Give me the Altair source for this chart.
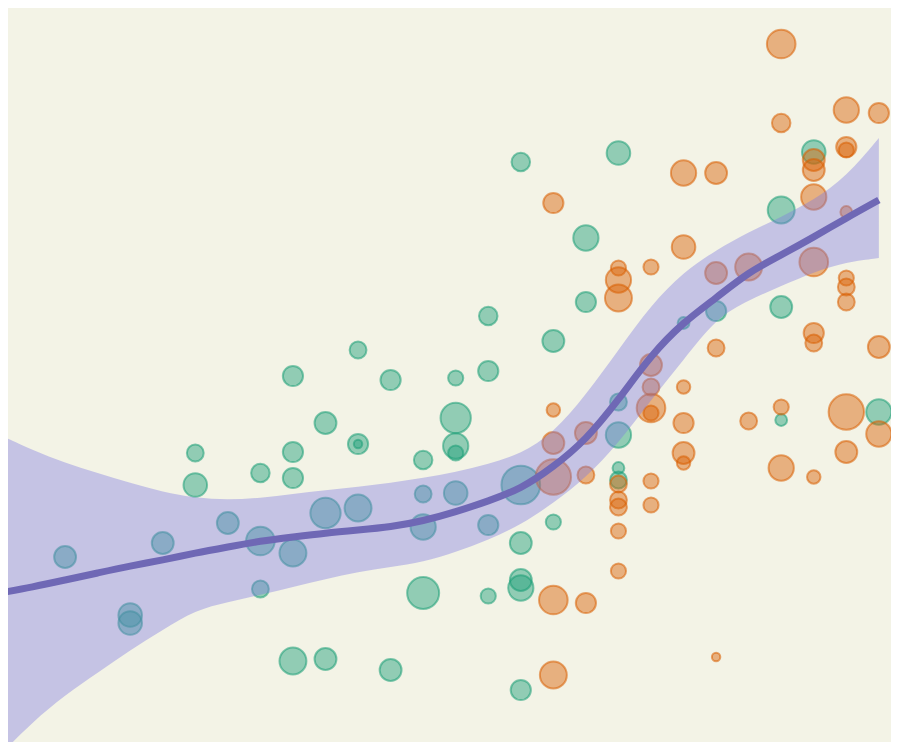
import altair as alt
import pandas as pd

# ---- scatter data (x = step index, y = value, r = radius-like weight) ----
green_x = [2, 4, 4, 5, 6, 6, 7, 8, 8, 8, 9, 9, 9, 9, 9, 10, 10, 10, 11, 11, 11, 11,
           12, 12, 13, 13, 13, 13, 14, 14, 14, 14, 14, 15, 15, 15, 15,
           16, 16, 16, 16, 16, 16, 17, 17, 18, 18, 19, 19, 19, 19, 19,
           21, 22, 24, 24, 24, 25, 27]
green_y = [19.3, 13.5, 12.7, 20.7, 29.7, 26.5, 22.7, 27.7, 20.9, 16.1, 37.4, 29.8, 27.2, 19.7, 8.9,
           32.7, 23.7, 9.1, 40.0, 30.6, 30.6, 24.2, 37.0, 8.0, 29.0, 25.6, 22.3, 15.7,
           37.2, 33.2, 30.4, 29.7, 25.7, 43.4, 37.9, 22.5, 15.4,
           58.8, 26.5, 20.7, 17.0, 16.2, 6.0, 40.9, 22.8, 51.2, 44.8,
           59.7, 34.8, 31.5, 28.2, 27.0, 42.7, 43.9, 54.0, 44.3, 33.0, 59.8, 33.8]
green_r = [13, 14, 14, 13, 10, 14, 13, 11, 17, 10, 12, 12, 12, 16, 16, 13, 18, 13, 10, 12, 5, 16,
           12, 13, 11, 10, 15, 19, 9, 18, 15, 9, 14, 11, 12, 12, 9,
           11, 23, 13, 13, 15, 12, 13, 9, 15, 12, 14, 10, 15, 7, 10,
           7, 12, 16, 13, 7, 14, 15]

orange_x = [17, 17, 17, 17, 17, 17, 18, 18, 18, 19, 19, 19, 19, 19, 19, 19, 19,
            20, 20, 20, 20, 20, 20, 20, 21, 21, 21, 21, 21, 21, 22, 22, 22, 22, 23, 23,
            24, 24, 24, 24, 25, 25, 25, 25, 25, 25, 25,
            26, 26, 26, 26, 26, 26, 26, 26, 26, 27, 27, 27]
orange_y = [54.7, 34.0, 30.7, 27.3, 15.0, 7.5, 31.7, 27.5, 14.7,
            48.2, 47.0, 45.2, 26.6, 25.0, 24.3, 21.9, 17.9,
            48.3, 38.5, 36.3, 34.2, 33.7, 26.9, 24.5,
            57.7, 50.3, 36.3, 32.7, 29.7, 28.7, 57.7, 47.7, 40.2, 9.3, 48.3, 32.9,
            70.6, 62.7, 34.3, 28.2, 59.0, 58.0, 55.3, 48.8, 41.7, 40.7, 27.3,
            64.0, 60.3, 60.0, 53.8, 47.2, 46.3, 44.8, 33.8, 29.8, 63.7, 40.3, 31.6]
orange_r = [12, 8, 13, 21, 17, 16, 13, 10, 12, 9, 15, 16, 10, 10, 10, 9, 9,
            9, 13, 10, 17, 9, 9, 9, 15, 14, 8, 12, 13, 8, 13, 13, 10, 5, 16, 10,
            17, 11, 9, 15, 13, 13, 15, 17, 12, 10, 8,
            15, 12, 9, 7, 9, 10, 10, 21, 13, 12, 13, 15]

# ---- smooth fit with confidence band ----
fit_x = list(range(28))
fit_y = [15.7, 16.3, 17.0, 17.7, 18.4, 19.0, 19.7, 20.3, 20.9, 21.3, 21.7, 22.0, 22.3, 22.9,
         23.8, 24.9, 26.1, 28.3, 31.0, 35.0, 39.5, 42.8, 45.2, 47.8, 49.5, 51.3, 53.2, 55.0]
fit_hi = [31.5, 30.0, 28.7, 27.7, 26.7, 25.8, 25.2, 25.0, 25.2, 25.6, 26.0, 26.3, 26.7, 27.2,
          27.8, 28.6, 29.6, 31.7, 35.5, 40.0, 44.5, 47.8, 50.0, 51.8, 53.3, 55.0, 57.3, 61.2]
fit_lo = [-0.5, 2.8, 5.5, 7.7, 10.0, 12.0, 14.0, 14.8, 15.5, 16.3, 17.1, 17.8, 18.3, 18.8,
          19.8, 21.0, 22.5, 24.7, 27.2, 30.7, 35.0, 39.0, 43.2, 45.0, 46.4, 47.8, 48.8, 49.2]

pts = pd.concat([
    pd.DataFrame({"x": green_x, "y": green_y, "r": green_r, "g": "A"}),
    pd.DataFrame({"x": orange_x, "y": orange_y, "r": orange_r, "g": "B"}),
], ignore_index=True)
fit = pd.DataFrame({"x": fit_x, "y": fit_y, "lo": fit_lo, "hi": fit_hi})

xs = alt.Scale(domain=[0.246, 27.373], nice=False, zero=False)
ys = alt.Scale(domain=[0.8, 74.2], nice=False, zero=False)
cs = alt.Scale(domain=["A", "B"], range=["#1b9e77", "#d95f02"])

points = alt.Chart(pts).mark_circle(
    fillOpacity=0.45, strokeOpacity=0.55, strokeWidth=2, opacity=1
).encode(
    x=alt.X("x:Q", scale=xs, axis=None),
    y=alt.Y("y:Q", scale=ys, axis=None),
    fill=alt.Fill("g:N", scale=cs, legend=None),
    stroke=alt.Stroke("g:N", scale=cs, legend=None),
    size=alt.Size("r:Q", scale=alt.Scale(type="pow", exponent=2, domain=[0, 20], range=[0, 1134]),
                  legend=None),
)

band = alt.Chart(fit).mark_area(
    color="#7f7ae0", opacity=0.4, interpolate="basis", clip=True
).encode(
    x=alt.X("x:Q", scale=xs, axis=None),
    y=alt.Y("lo:Q", scale=ys, axis=None),
    y2="hi:Q",
)

line = alt.Chart(fit).mark_line(
    color="#6f68b5", strokeWidth=7, interpolate="basis", clip=True
).encode(
    x=alt.X("x:Q", scale=xs, axis=None),
    y=alt.Y("y:Q", scale=ys, axis=None),
)

chart = alt.layer(points, band, line).properties(
    width=883, height=734, padding=0, autosize=alt.AutoSizeParams(type="none"),
    background="#f3f3e6",
).configure_view(stroke=None)

chart.save("out.html", embed_options={"renderer": "svg", "actions": False})
